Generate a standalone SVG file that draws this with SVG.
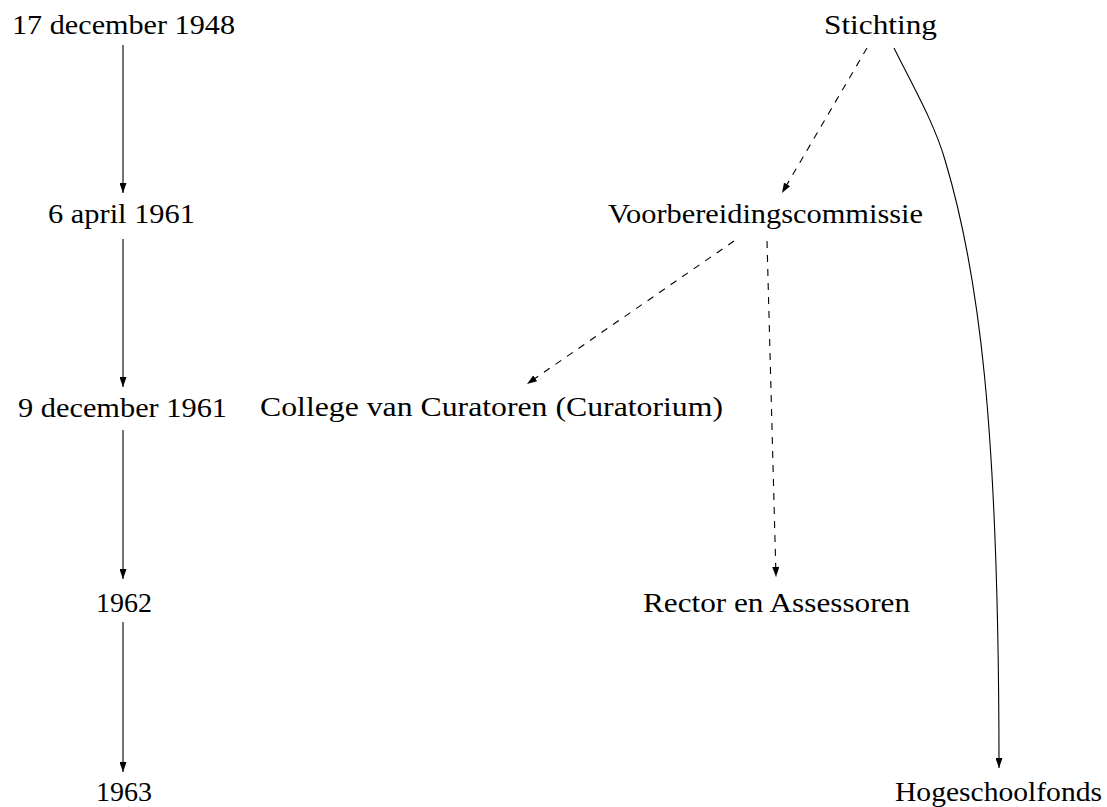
<svg xmlns="http://www.w3.org/2000/svg" width="1107" height="807" viewBox="0 0 1107 807">
<style>
text{font-family:'Liberation Serif','DejaVu Serif','Noto Serif',serif;font-size:28px;fill:#000}
.c{fill:none;stroke:#000;stroke-width:1.1}
.d{stroke-dasharray:7 7}
</style>
<defs>
<marker id="ah" viewBox="0 0 10 7" refX="10" refY="3.5" markerWidth="10" markerHeight="7" markerUnits="userSpaceOnUse" orient="auto">
<path d="M0,0 L10,3.5 L0,7 z" fill="#000"/>
</marker>
</defs>
<rect width="1107" height="807" fill="#fff"/>
<g id="n1948"><text x="12" y="34" font-family="Liberation Serif, DejaVu Serif, serif" textLength="223" lengthAdjust="spacingAndGlyphs">17 december 1948</text></g>
<g id="n1961a"><text x="48" y="223" font-family="Liberation Serif, DejaVu Serif, serif" textLength="147" lengthAdjust="spacingAndGlyphs">6 april 1961</text></g>
<g id="n1961b"><text x="18" y="417" font-family="Liberation Serif, DejaVu Serif, serif" textLength="209" lengthAdjust="spacingAndGlyphs">9 december 1961</text></g>
<g id="n1962"><text x="96" y="612" font-family="Liberation Serif, DejaVu Serif, serif" textLength="56" lengthAdjust="spacingAndGlyphs">1962</text></g>
<g id="n1963"><text x="96" y="801" font-family="Liberation Serif, DejaVu Serif, serif" textLength="56" lengthAdjust="spacingAndGlyphs">1963</text></g>
<g id="stichting"><text x="824" y="34" font-family="Liberation Serif, DejaVu Serif, serif" textLength="113" lengthAdjust="spacingAndGlyphs">Stichting</text></g>
<g id="voorb"><text x="608" y="223" font-family="Liberation Serif, DejaVu Serif, serif" textLength="315" lengthAdjust="spacingAndGlyphs">Voorbereidingscommissie</text></g>
<g id="college"><text x="260" y="416" font-family="Liberation Serif, DejaVu Serif, serif" textLength="463" lengthAdjust="spacingAndGlyphs">College van Curatoren (Curatorium)</text></g>
<g id="rector"><text x="643" y="612" font-family="Liberation Serif, DejaVu Serif, serif" textLength="267" lengthAdjust="spacingAndGlyphs">Rector en Assessoren</text></g>
<g id="hogeschool"><text x="895" y="801" font-family="Liberation Serif, DejaVu Serif, serif" textLength="207" lengthAdjust="spacingAndGlyphs">Hogeschoolfonds</text></g>
<g id="connectors">
<path class="c" d="M123,45 L123,193" marker-end="url(#ah)"/>
<path class="c" d="M123,239 L123,387" marker-end="url(#ah)"/>
<path class="c" d="M123,430 L123,579" marker-end="url(#ah)"/>
<path class="c" d="M123,622 L123,772" marker-end="url(#ah)"/>
<path class="c d" d="M867,48 L782,193" marker-end="url(#ah)"/>
<path class="c d" d="M734,241 L527,384" marker-end="url(#ah)"/>
<path class="c d" d="M767,241 L776,577" marker-end="url(#ah)"/>
<path class="c" d="M894,48 C915,90 935,125 945,160 C978,270 999,420 999,768" marker-end="url(#ah)"/>
</g>
</svg>
